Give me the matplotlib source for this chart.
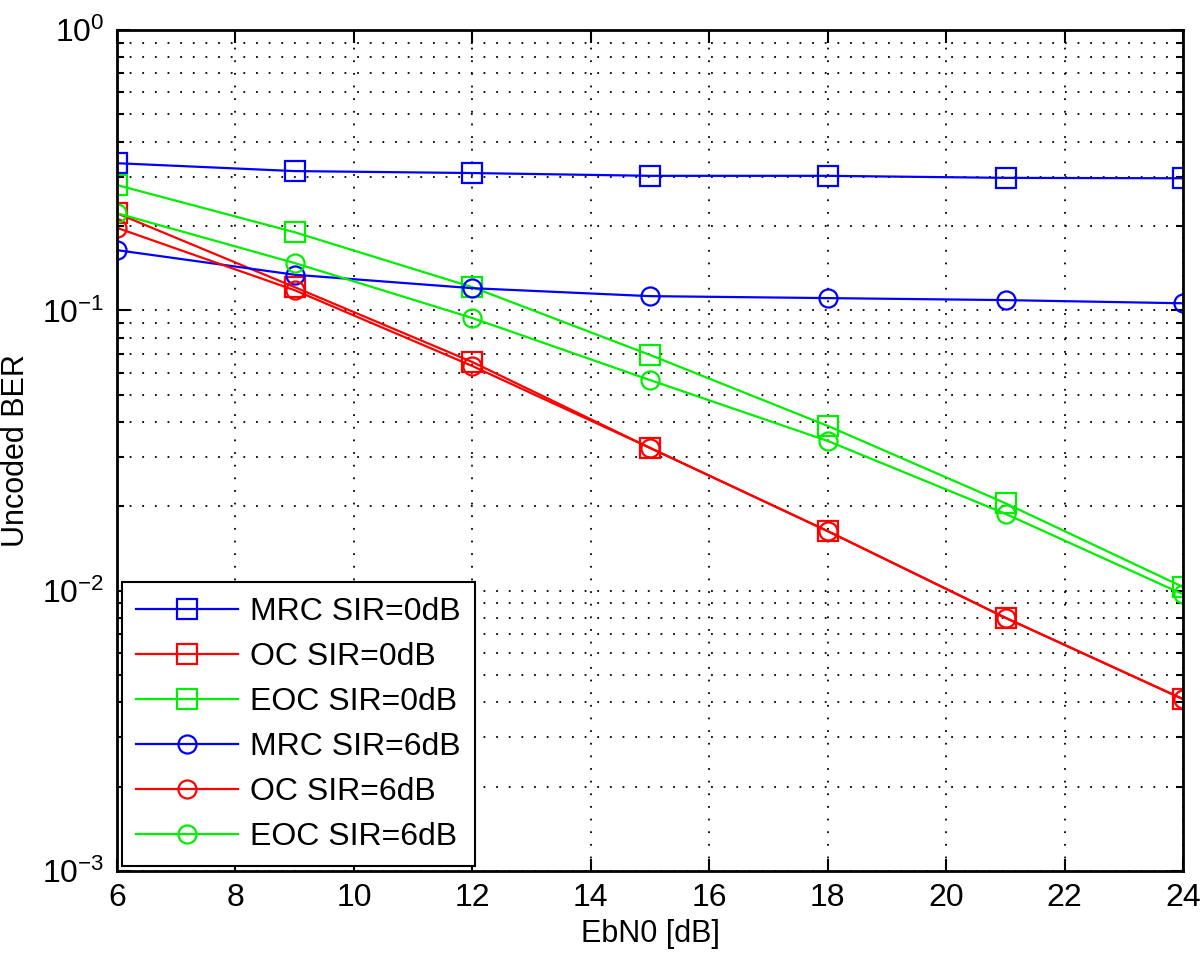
import matplotlib
matplotlib.use('Agg')
import matplotlib.pyplot as plt
import numpy as np

plt.rcParams['font.family'] = ['Liberation Sans', 'DejaVu Sans']
plt.rcParams['mathtext.default'] = 'regular'

# Data
ebn0 = [6, 9, 12, 15, 18, 21, 24]
mrc_0db = [0.335, 0.314, 0.309, 0.302, 0.302, 0.297, 0.296]
oc_0db = [0.222, 0.121, 0.0654, 0.0323, 0.0163, 0.0080, 0.0041]
eoc_0db = [0.280, 0.190, 0.121, 0.0693, 0.0387, 0.0205, 0.0103]
mrc_6db = [0.164, 0.134, 0.120, 0.1124, 0.1106, 0.1088, 0.106]
oc_6db = [0.197, 0.118, 0.0633, 0.0323, 0.0163, 0.0080, 0.0041]
eoc_6db = [0.222, 0.1475, 0.0939, 0.0564, 0.0342, 0.0188, 0.0097]

labels = ['MRC SIR=0dB', 'OC SIR=0dB', 'EOC SIR=0dB',
          'MRC SIR=6dB', 'OC SIR=6dB', 'EOC SIR=6dB']
series = [mrc_0db, oc_0db, eoc_0db, mrc_6db, oc_6db, eoc_6db]
colors = ['#0000ff', '#ff0000', '#00ee00'] * 2
markers = ['s'] * 3 + ['o'] * 3

fig = plt.figure(figsize=(12, 9.61), dpi=100)
ax = fig.add_axes([0.0975, 0.0937, 0.8885, 0.875])

for vals, lab, c, m in zip(series, labels, colors, markers):
    ax.plot(ebn0, vals, color=c, marker=m, markersize=14 if m == 's' else 13,
            markerfacecolor='none', markeredgewidth=1.6, linewidth=1.6, label=lab)

ax.set_yscale('log')
ax.set_xlim(6, 24)
ax.set_ylim(1e-3, 1)
ax.set_xticks(np.arange(6, 25, 2))

ax.grid(True, which='major', color='black', linestyle=(0, (1, 6)), linewidth=1.3)
ax.grid(True, which='minor', axis='y', color='black', linestyle=(0, (1, 6)), linewidth=1.3)

ax.tick_params(which='both', direction='in', top=True, right=True, labelsize=23, width=1.5)
ax.tick_params(which='major', length=9, pad=9)
ax.tick_params(which='minor', length=5)
for s in ax.spines.values():
    s.set_linewidth(2)

ax.set_xlabel('EbN0 [dB]', fontsize=22, labelpad=4)
ax.set_ylabel('Uncoded BER', fontsize=22)
ax.yaxis.set_label_coords(-0.081, 0.5)

leg = ax.legend(loc='lower left', fontsize=23, fancybox=False, framealpha=1,
                edgecolor='black', handlelength=3.2, borderaxespad=0.15,
                labelspacing=0.47, handletextpad=0.35, borderpad=0.45)
leg.get_frame().set_linewidth(1.5)

fig.savefig('out.png', dpi=100)
